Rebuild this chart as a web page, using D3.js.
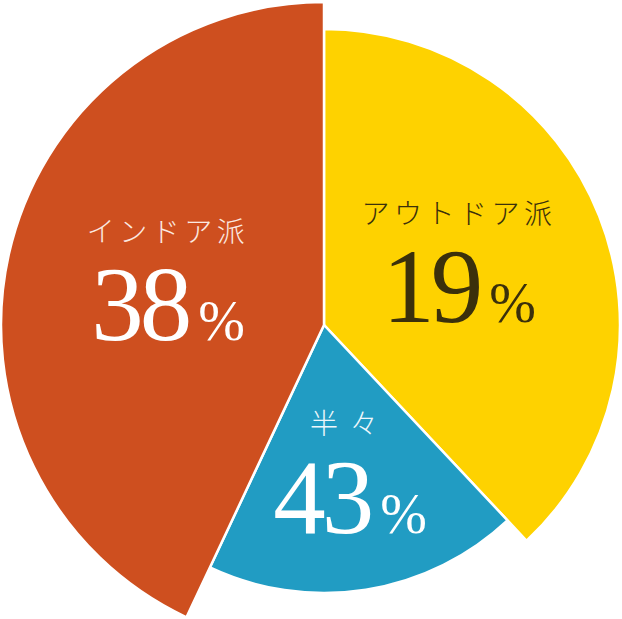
<!DOCTYPE html>
<html>
<head>
<meta charset="utf-8">
<script src="https://cdn.jsdelivr.net/npm/d3@7"></script>
<style>
  html, body { margin: 0; padding: 0; background: #fff; }
  svg { display: block; }
</style>
</head>
<body>
<div id="chart"></div>
<script>
// slice data, clockwise from 12 o'clock
const categories = ['アウトドア派', '半々', 'インドア派'];
const shares = [38, 19, 43];            // angular share of each slice
const labelPercents = ['19', '43', '38']; // numbers printed on the slices
const radii = [296, 268, 323];
const colors = ['#fed200', '#219cc3', '#ce4f1f'];
const textColors = ['#3b300b', '#ffffff', '#ffffff'];
const subColors = ['#3b300b', '#eef7fb', '#fbe9e1'];

// where the labels sit (centre x, label y, number baseline y)
const labelPos = [[459, 212, 322], [350, 422, 533], [168, 230, 340]];
const labelSpacing = [4.5, 12, 4.5];

const width = 622, height = 619;
const cx = 324, cy = 325;

const svg = d3.select('#chart').append('svg')
  .attr('width', width)
  .attr('height', height);

const g = svg.append('g')
  .attr('transform', `translate(${cx},${cy})`);

const pie = d3.pie().sort(null).value(d => d.share);
const data = categories.map((c, i) => ({
  name: c, share: shares[i], pct: labelPercents[i], r: radii[i]
}));

const arc = d3.arc()
  .innerRadius(0)
  .outerRadius(d => d.data.r);

g.selectAll('path')
  .data(pie(data))
  .join('path')
  .attr('d', arc)
  .attr('fill', (d, i) => colors[i])
  .attr('stroke', '#fff')
  .attr('stroke-width', 2.5)
  .attr('stroke-linejoin', 'miter');

// labels
data.forEach((d, i) => {
  const [x, ly, ny] = labelPos[i];
  svg.append('text')
    .attr('x', x)
    .attr('y', ly)
    .attr('text-anchor', 'middle')
    .attr('dominant-baseline', 'central')
    .attr('fill', subColors[i])
    .style('font-family', '"Noto Sans CJK JP", sans-serif')
    .style('font-weight', 300)
    .style('font-size', '28px')
    .style('letter-spacing', `${labelSpacing[i]}px`)
    .text(d.name);

  const t = svg.append('text')
    .attr('x', x)
    .attr('y', ny)
    .attr('text-anchor', 'middle')
    .attr('fill', textColors[i])
    .style('font-family', '"Liberation Serif", "DejaVu Serif", serif');
  t.append('tspan')
    .style('font-size', '105px')
    .style('letter-spacing', '-4px')
    .text(d.pct);
  t.append('tspan')
    .attr('dx', 10)
    .style('font-size', '56px')
    .text('%');
});
</script>
</body>
</html>
